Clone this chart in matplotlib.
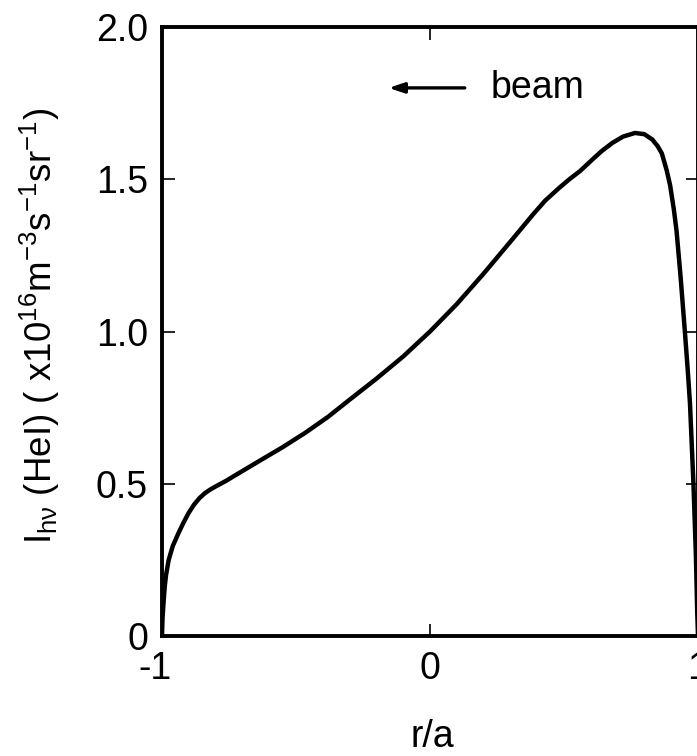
import matplotlib
matplotlib.use("Agg")
import matplotlib.pyplot as plt
from matplotlib import font_manager
from matplotlib.transforms import ScaledTranslation

# ---- data ----
r_over_a = [-1.0, -0.998, -0.995, -0.99, -0.985, -0.975, -0.96, -0.94, -0.92, -0.90,
            -0.88, -0.86, -0.84, -0.82, -0.80, -0.76, -0.73, -0.65, -0.55, -0.466,
            -0.38, -0.30, -0.20, -0.10, 0.0, 0.10, 0.20, 0.30, 0.385, 0.43,
            0.48, 0.52, 0.56, 0.60, 0.64, 0.68, 0.72, 0.765, 0.80, 0.83,
            0.85, 0.865, 0.883, 0.896, 0.91, 0.92, 0.935, 0.951, 0.962, 0.970,
            0.983, 0.992, 0.997, 1.0]
intensity = [0.0, 0.06, 0.10, 0.16, 0.20, 0.25, 0.295, 0.335, 0.372, 0.405,
             0.432, 0.453, 0.469, 0.481, 0.491, 0.510, 0.526, 0.568, 0.620, 0.667,
             0.72, 0.776, 0.845, 0.918, 1.0, 1.09, 1.19, 1.295, 1.385, 1.43,
             1.47, 1.50, 1.527, 1.560, 1.592, 1.619, 1.640, 1.652, 1.648, 1.630,
             1.608, 1.585, 1.530, 1.48, 1.40, 1.33, 1.18, 1.00, 0.87, 0.765,
             0.50, 0.27, 0.08, 0.0]
x_ticks = [-1, 0, 1]
x_ticklabels = ["-1", "0", "1"]
y_ticks = [0, 0.5, 1.0, 1.5, 2.0]
y_ticklabels = ["0", "0.5", "1.0", "1.5", "2.0"]

avail = {f.name for f in font_manager.fontManager.ttflist}
fam = "Liberation Sans" if "Liberation Sans" in avail else "DejaVu Sans"
plt.rcParams["font.family"] = [fam, "DejaVu Sans"]
plt.rcParams["mathtext.fontset"] = "custom"
plt.rcParams["mathtext.rm"] = fam
plt.rcParams["mathtext.it"] = fam
plt.rcParams["mathtext.default"] = "rm"

fig = plt.figure(figsize=(6.97, 7.56), dpi=100)
ax = fig.add_axes([162/697, 1-636/756, 536/697, 609/756])

ax.plot(r_over_a, intensity, color="black", lw=3.2, solid_capstyle="round",
        solid_joinstyle="round")

ax.set_xlim(-1, 1)
ax.set_ylim(0, 2.0)
ax.set_xticks(x_ticks)
ax.set_xticklabels(x_ticklabels)
ax.set_yticks(y_ticks)
ax.set_yticklabels(y_ticklabels)

for s in ax.spines.values():
    s.set_linewidth(2.8)
ax.tick_params(direction="in", length=9, width=1.2, top=True, right=True,
               labelsize=27, colors="black")
ax.tick_params(axis="y", pad=10)
ax.tick_params(axis="x", pad=11)

# shift the "-1" label so that the digit sits over the tick
lbl = ax.get_xticklabels()[0]
lbl.set_transform(lbl.get_transform() + ScaledTranslation(-7/100, 0, fig.dpi_scale_trans))

# beam arrow
ax.annotate("", xy=(-0.165, 1.80), xytext=(0.14, 1.80),
            arrowprops=dict(arrowstyle="-|>,head_length=0.9,head_width=0.3",
                            color="black", lw=2.4))
ax.text(0.225, 1.80, "beam", fontsize=27, ha="left", va="center")

fig.text(40/697, 1-326/756,
         r"I$_{h\nu}$ (HeI) ( x10$^{16}$m$^{-3}$s$^{-1}$sr$^{-1}$)",
         rotation=90, ha="center", va="center", fontsize=26.5)
fig.text(432/697, 1-737/756, "r/a", ha="center", va="center", fontsize=27)

fig.savefig("out.png", dpi=100)
